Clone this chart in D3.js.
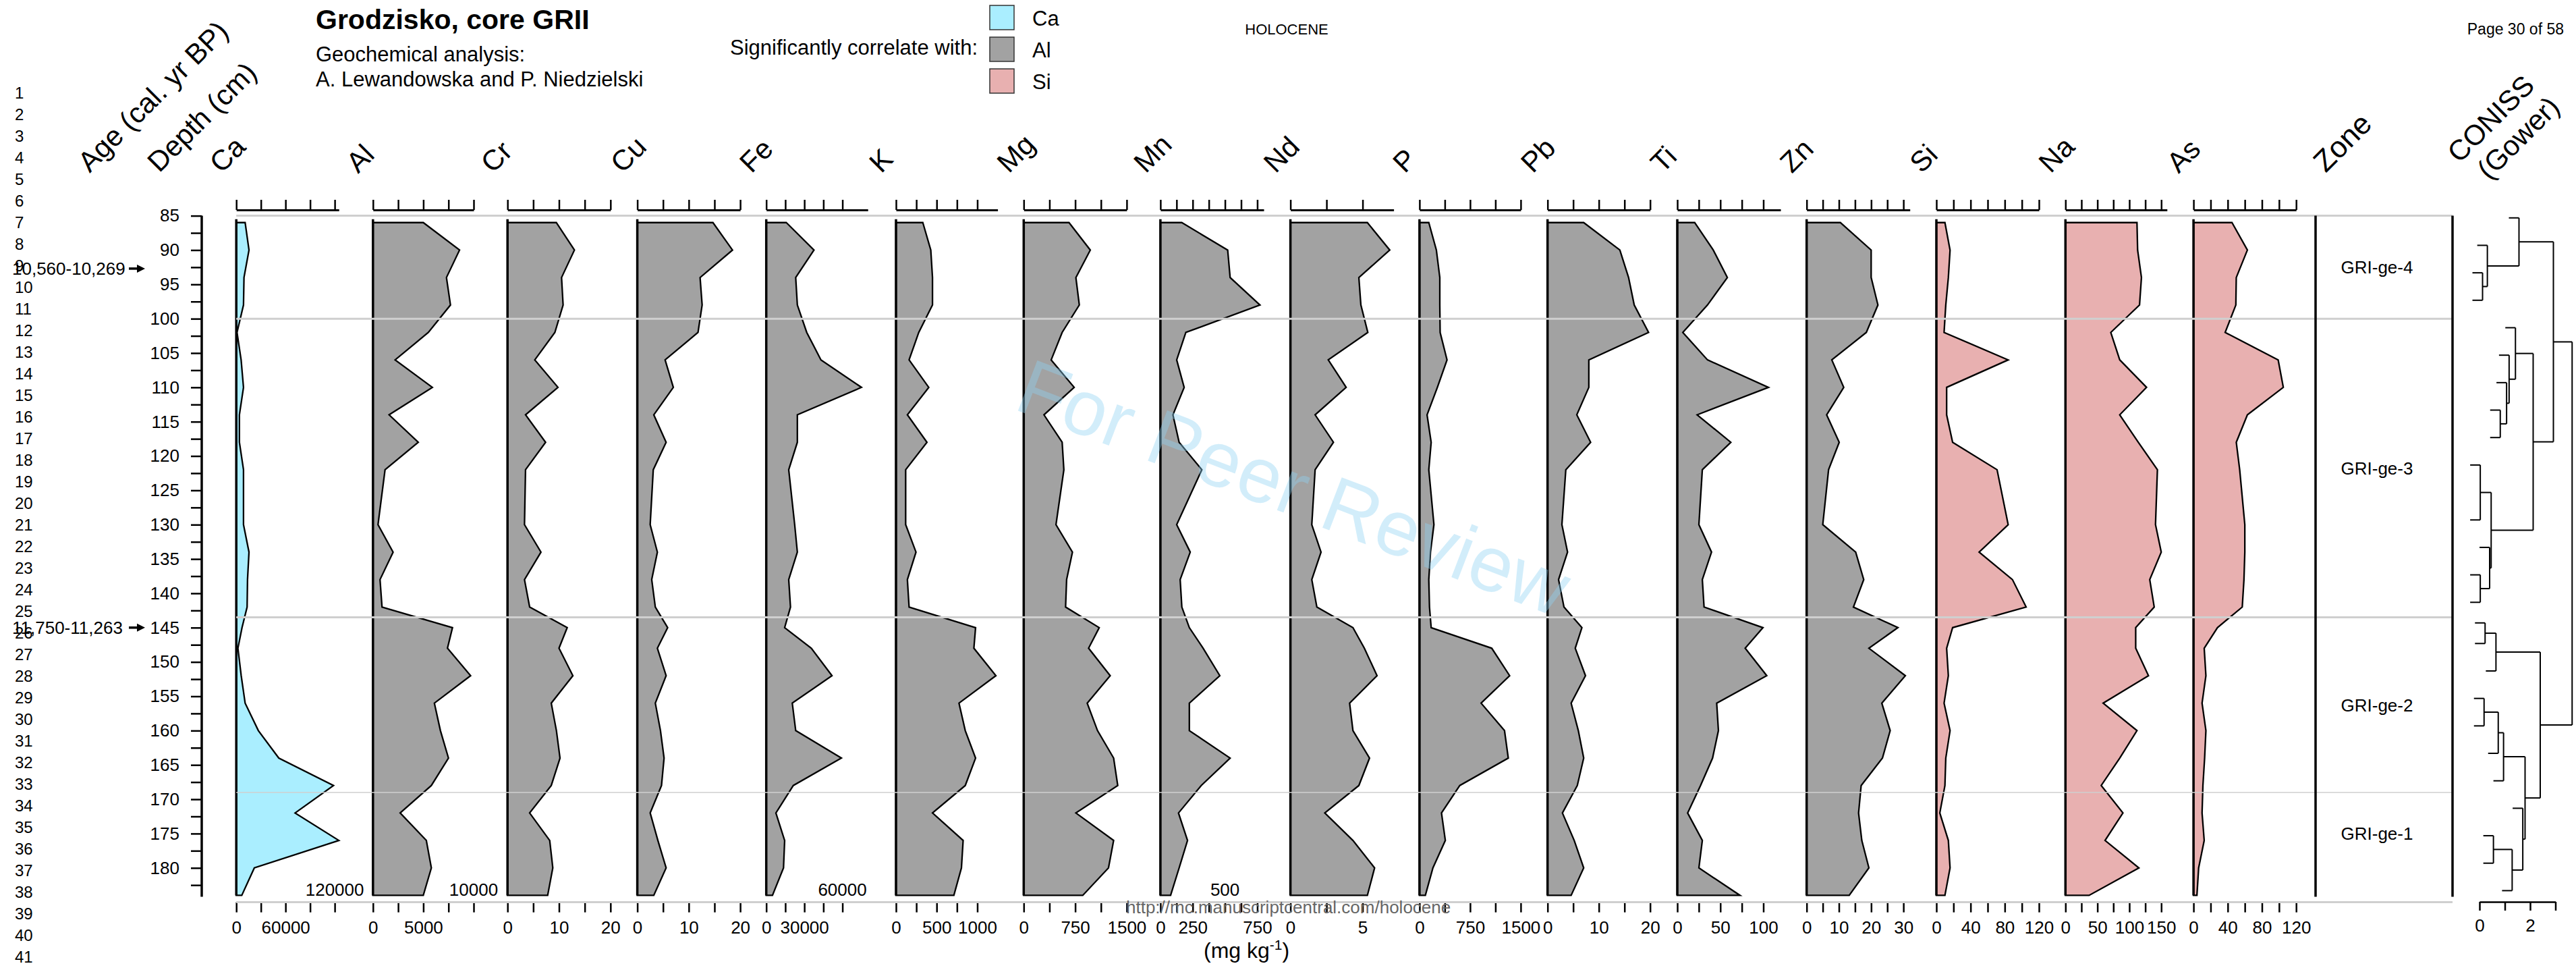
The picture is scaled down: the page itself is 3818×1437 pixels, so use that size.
<!DOCTYPE html>
<html>
<head>
<meta charset="utf-8">
<script src="https://cdn.jsdelivr.net/npm/d3@7.9.0/dist/d3.min.js"></script>
<style>
  body { margin: 0; background: #fff; }
  svg { display: block; font-family: "Liberation Sans", Arial, Helvetica, sans-serif; }
</style>
</head>
<body>
<svg id="chart" width="3818" height="1437"></svg>
<script>
// sample depths (cm)
const depths = [86, 90, 94, 98, 102, 106, 110, 114, 118, 122, 130, 134, 138, 142, 145, 148, 152, 156, 160, 164, 168, 172, 176, 180, 184];

// concentrations (mg/kg), one value per depth
const ca = [10800, 15500, 9400, 8800, 900, 5900, 8800, 3800, 3800, 8800, 8800, 15500, 13700, 13200, 7000, 2000, 6000, 10800, 26900, 51800, 118500, 71700, 125000, 22000, 6700];
const al = [5000, 8600, 7300, 7700, 5500, 2200, 5900, 1600, 4500, 1200, 500, 2000, 700, 900, 7900, 7400, 9700, 6100, 6700, 7500, 5800, 2700, 5300, 5800, 5000];
const cr = [9.5, 13.0, 10.5, 10.8, 9.2, 5.3, 9.8, 3.5, 7.4, 3.5, 3.3, 6.5, 3.3, 4.3, 11.6, 10.0, 12.7, 8.5, 9.5, 10.2, 8.5, 4.3, 8.2, 8.8, 7.8];
const cu = [14.7, 18.5, 12.2, 12.6, 11.8, 5.4, 7.0, 3.2, 5.6, 3.1, 2.5, 3.9, 2.8, 3.5, 5.9, 3.9, 5.6, 3.5, 4.5, 5.2, 4.7, 2.5, 4.0, 5.6, 3.2];
const fe = [15800, 37600, 23200, 24500, 31900, 43100, 75000, 24500, 24500, 17700, 22400, 24500, 17700, 19100, 14500, 35500, 51800, 20500, 23200, 59200, 21300, 7600, 14500, 13600, 4900];
const k  = [330, 428, 449, 449, 280, 161, 403, 140, 381, 119, 119, 246, 140, 161, 979, 958, 1229, 775, 852, 979, 852, 449, 826, 805, 712];
const mg = [660, 970, 760, 810, 560, 400, 735, 295, 560, 585, 470, 710, 625, 610, 1100, 945, 1260, 925, 1075, 1310, 1370, 760, 1310, 1235, 860];
const mn = [166, 521, 540, 771, 197, 126, 184, 97, 145, 321, 126, 231, 153, 166, 224, 331, 460, 224, 224, 540, 316, 140, 210, 145, 79];
const nd = [5.33, 6.88, 4.74, 4.88, 5.36, 2.62, 3.86, 1.71, 2.98, 1.71, 1.48, 2.12, 1.48, 1.83, 4.33, 5.12, 6.0, 4.1, 4.33, 5.48, 4.74, 2.38, 4.33, 5.83, 5.33];
const p  = [138, 250, 301, 301, 306, 408, 265, 112, 173, 138, 214, 163, 138, 148, 173, 1071, 1336, 913, 1260, 1316, 597, 326, 383, 199, 87];
const pb = [7.05, 14.1, 15.8, 16.9, 19.7, 8.05, 8.05, 5.7, 8.4, 3.56, 2.8, 3.9, 2.15, 3.2, 6.7, 5.4, 7.4, 4.6, 6.0, 7.05, 5.8, 2.9, 5.2, 7.05, 4.6];
const ti = [20.3, 41.8, 58.2, 35.1, 6.4, 35.1, 106, 23.1, 62.2, 29.1, 25.1, 39.8, 29.1, 31.1, 99.6, 78.9, 104, 45.8, 47.8, 41, 27, 12, 29.1, 25.1, 72.9];
const zn = [10.5, 20, 20, 22.1, 18.5, 7.8, 11.5, 6.2, 10.1, 6.8, 5.0, 15.2, 17.7, 14.5, 28.3, 19.3, 30.6, 23.3, 25.9, 23.5, 16.9, 16.1, 17.1, 19.3, 13.2];
const si = [10, 16, 14, 11, 9, 84, 12, 12, 19, 71, 84, 50, 89, 105, 19, 12, 14, 9, 16, 11, 10, 4, 14, 16, 10];
const na = [112, 113, 119, 116, 71, 85, 127, 85, 114, 144, 141, 150, 132, 139, 110, 110, 130, 59, 112, 85, 56, 90, 62, 115, 37];
const as = [45, 63, 50, 49.5, 37, 99, 105, 63, 50, 54, 60, 60, 59, 57, 28, 12.5, 14.5, 10, 14.5, 13, 11, 10, 12.5, 6, 4];

const elements = ["Ca", "Al", "Cr", "Cu", "Fe", "K", "Mg", "Mn", "Nd", "P", "Pb", "Ti", "Zn", "Si", "Na", "As"];
const series = [ca, al, cr, cu, fe, k, mg, mn, nd, p, pb, ti, zn, si, na, as];
const correlates = ["Ca", "Al", "Al", "Al", "Al", "Al", "Al", "Al", "Al", "Al", "Al", "Al", "Al", "Si", "Si", "Si"];
const axisMax = [125000, 10000, 20, 20, 80000, 1250, 1500, 800, 7.15, 1500, 20, 120, 32, 120, 159, 120];
const ticks = [
  [0, 30000, 60000, 90000, 120000], [0, 2500, 5000, 7500, 10000], [0, 5, 10, 15, 20], [0, 5, 10, 15, 20],
  [0, 15000, 30000, 45000, 60000], [0, 250, 500, 750, 1000], [0, 375, 750, 1125, 1500], [0, 125, 250, 375, 500, 625, 750],
  [0, 2.5, 5], [0, 375, 750, 1125, 1500], [0, 5, 10, 15, 20], [0, 25, 50, 75, 100],
  [0, 5, 10, 15, 20, 25, 30], [0, 20, 40, 60, 80, 100, 120], [0, 25, 50, 75, 100, 125, 150], [0, 20, 40, 60, 80, 100, 120]
];
const labelsBelow = [[0, 60000], [0, 5000], [0, 10, 20], [0, 10, 20], [0, 30000], [0, 500, 1000], [0, 750, 1500], [0, 250, 750],
  [0, 5], [0, 750, 1500], [0, 10, 20], [0, 50, 100], [0, 10, 20, 30], [0, 40, 80, 120], [0, 50, 100, 150], [0, 40, 80, 120]];
const labelsAbove = [[120000], [10000], [], [], [60000], [], [], [500], [], [], [], [], [], [], [], []];

// zones
const zoneBounds = [85, 100, 143.5, 169, 185];
const zoneNames = ["GRI-ge-4", "GRI-ge-3", "GRI-ge-2", "GRI-ge-1"];
const zoneLabelDepth = [92.5, 121.75, 156.25, 175];
const ageNotes = ["10,560-10,269", "11,750-11,263"];
const ageNoteDepth = [92.7, 145];

// CONISS merges (R hclust style: negative = sample, positive = earlier merge)
const mergeA = [-3, -2, -1, -8, -7, -6, -5, -10, -13, -12, 8, 7, 3, -15, -17, -18, -20, -21, -23, -25, -22, 18, 15, 13];
const mergeB = [-4, 1, 2, -9, 4, 5, 6, -11, -14, 9, 10, 11, 12, -16, 14, -19, 16, 17, -24, 19, 20, 21, 22, 23];
const mergeHeight = [0.12, 0.31, 1.56, 0.82, 1.07, 1.17, 1.42, 0.03, 0.03, 0.40, 0.46, 2.12, 2.92, 0.22, 0.65, 0.18, 0.74, 0.95, 0.55, 1.29, 1.71, 1.80, 2.40, 3.66];

// ---------- layout ----------
const panelLeft  = [350.2, 552.8, 752.2, 944.6, 1135.7, 1328, 1517.3, 1719.9, 1912.6, 2103.9, 2293.7, 2486, 2677.7, 2870, 3061.3, 3251.1];
const panelRight = [502.2, 702, 904.8, 1097.1, 1286.2, 1478.6, 1669.9, 1873, 2065.6, 2253.9, 2445.7, 2639, 2830.7, 3022, 3211.8, 3403.2];
const colors = { Ca: "#aaeeff", Al: "#a2a2a2", Si: "#e8b0b0" };
const topAxisY = 311;
const zoneLeft = 3432, zoneRight = 3635;

const svg = d3.select("#chart");
const y = d3.scaleLinear().domain([85, 185]).range([319.6, 1336.6]);
const bottomY = y(185);

// page line numbers
svg.append("g").selectAll("text")
  .data(d3.range(1, 42))
  .join("text")
  .attr("x", 22).attr("y", d => 137 + (d - 1) * 32)
  .attr("dy", "0.36em").attr("font-size", 24)
  .text(d => d);

// header text
svg.append("text").attr("x", 468).attr("y", 43).attr("font-size", 41).attr("font-weight", "bold").text("Grodzisko, core GRII");
svg.append("text").attr("x", 468).attr("y", 91).attr("font-size", 31).text("Geochemical analysis:");
svg.append("text").attr("x", 468).attr("y", 128).attr("font-size", 31).text("A. Lewandowska and P. Niedzielski");
svg.append("text").attr("x", 1449).attr("y", 81).attr("font-size", 31).attr("text-anchor", "end").text("Significantly correlate with:");
svg.append("text").attr("x", 1907).attr("y", 51).attr("font-size", 22).attr("text-anchor", "middle").text("HOLOCENE");
svg.append("text").attr("x", 3800).attr("y", 51).attr("font-size", 23).attr("text-anchor", "end").text("Page 30 of 58");

const legendKeys = ["Ca", "Al", "Si"];
legendKeys.forEach((key, i) => {
  svg.append("rect").attr("x", 1467).attr("y", 8 + i * 47).attr("width", 36).attr("height", 36)
    .attr("fill", colors[key]).attr("stroke", "#333").attr("stroke-width", 1.5);
  svg.append("text").attr("x", 1530).attr("y", 38 + i * 47).attr("font-size", 31).text(key);
});

// rotated column headers
function rotLabel(x, yy, txt, size) {
  svg.append("text").attr("transform", `translate(${x},${yy}) rotate(-45)`)
    .attr("font-size", size).text(txt);
}
rotLabel(133, 257, "Age (cal. yr BP)", 42);
rotLabel(236, 257, "Depth (cm)", 42);
elements.forEach((el, i) => rotLabel(panelLeft[i] - 22, 258, el, 42));
rotLabel(3447, 257, "Zone", 44);
rotLabel(3645, 243, "CONISS", 42);
rotLabel(3689, 268, "(Gower)", 42);

// depth axis
const depthAxis = d3.axisLeft(y)
  .tickValues(d3.range(85, 183, 2.5))
  .tickSize(16).tickPadding(17)
  .tickFormat(d => d % 5 === 0 ? d : "");
const dg = svg.append("g").attr("transform", "translate(299,0)").call(depthAxis);
dg.select(".domain").remove();
dg.selectAll("line").attr("stroke", "#000").attr("stroke-width", 2.5);
dg.selectAll("text").attr("font-size", 26).attr("font-family", null).attr("fill", "#000");
svg.append("line").attr("x1", 299).attr("x2", 299).attr("y1", y(85)).attr("y2", y(184.2))
  .attr("stroke", "#000").attr("stroke-width", 3.5);

// age notes with arrows
ageNotes.forEach((txt, i) => {
  const yy = y(ageNoteDepth[i]);
  svg.append("text").attr("x", 18).attr("y", yy).attr("dy", "0.36em").attr("font-size", 26).text(txt);
  svg.append("line").attr("x1", 191).attr("x2", 205).attr("y1", yy).attr("y2", yy)
    .attr("stroke", "#000").attr("stroke-width", 3.5);
  svg.append("path").attr("d", `M203,${yy - 6}L215,${yy}L203,${yy + 6}Z`).attr("fill", "#000");
});

// panels
const panels = svg.append("g");
elements.forEach((el, i) => {
  const x = d3.scaleLinear().domain([0, axisMax[i]]).range([panelLeft[i], panelRight[i]]);
  const rows = depths.map((d, j) => ({ d: d, v: series[i][j] }));
  const area = d3.area().x0(x(0)).x1(d => x(d.v)).y(d => y(d.d));
  const g = panels.append("g");
  g.append("path").attr("d", area(rows))
    .attr("fill", colors[correlates[i]]).attr("stroke", "#000").attr("stroke-width", 2.3)
    .attr("stroke-linejoin", "miter");
  g.append("line").attr("x1", x(0)).attr("x2", x(0)).attr("y1", y(85.5)).attr("y2", y(184))
    .attr("stroke", "#000").attr("stroke-width", 3.5);

  // top axis
  const top = g.append("g").attr("transform", `translate(0,${topAxisY})`)
    .call(d3.axisTop(x).tickValues(ticks[i]).tickSize(15).tickSizeOuter(0).tickFormat(""));
  top.select(".domain").attr("stroke", "#000").attr("stroke-width", 3);
  top.selectAll("line").attr("stroke", "#000").attr("stroke-width", 2.5);

  // bottom axis
  const bot = g.append("g").attr("transform", `translate(0,${bottomY})`)
    .call(d3.axisBottom(x).tickValues(ticks[i]).tickSize(15).tickPadding(13)
      .tickFormat(d => labelsBelow[i].includes(d) ? String(d) : ""));
  bot.select(".domain").remove();
  bot.selectAll("line").attr("stroke", "#000").attr("stroke-width", 2.5);
  bot.selectAll("text").attr("font-size", 26).attr("font-family", null).attr("fill", "#000");

  labelsAbove[i].forEach(v => {
    g.append("text").attr("x", x(v)).attr("y", 1327).attr("text-anchor", "middle")
      .attr("font-size", 26).text(String(v));
  });
});

// zone boundary lines (on top of the profiles)
zoneBounds.forEach(b => {
  svg.append("line").attr("x1", panelLeft[0]).attr("x2", zoneRight)
    .attr("y1", y(b)).attr("y2", y(b))
    .attr("stroke", "#cfcfcf").attr("stroke-width", b === 169 ? 1.5 : 3);
});

// zone column
[zoneLeft, zoneRight].forEach(xx => {
  svg.append("line").attr("x1", xx).attr("x2", xx).attr("y1", y(85)).attr("y2", y(184.2))
    .attr("stroke", "#000").attr("stroke-width", 3.5);
});
zoneNames.forEach((name, i) => {
  svg.append("text").attr("x", 3523).attr("y", y(zoneLabelDepth[i])).attr("dy", "0.36em")
    .attr("text-anchor", "middle").attr("font-size", 26).text(name);
});

// CONISS dendrogram
const dx = d3.scaleLinear().domain([0, 3]).range([3675, 3787.5]);
const leafY = d => y(d) - 7;
const hang = 0.4;
const clusterPos = [];
const dendro = svg.append("g").attr("stroke", "#000").attr("stroke-width", 2).attr("fill", "none");
mergeHeight.forEach((h, m) => {
  const kids = [mergeA[m], mergeB[m]].map(c => c < 0
    ? { pos: leafY(depths[-c - 1]), h: h - hang }
    : { pos: clusterPos[c - 1], h: mergeHeight[c - 1] });
  kids.forEach(c => {
    dendro.append("line").attr("x1", dx(c.h)).attr("x2", dx(h)).attr("y1", c.pos).attr("y2", c.pos);
  });
  dendro.append("line").attr("x1", dx(h)).attr("x2", dx(h)).attr("y1", kids[0].pos).attr("y2", kids[1].pos);
  clusterPos.push((kids[0].pos + kids[1].pos) / 2);
});
const dAxis = svg.append("g").attr("transform", "translate(0,1336)")
  .call(d3.axisBottom(dx).tickValues([0, 1, 2, 3]).tickSize(13).tickSizeOuter(0).tickPadding(13)
    .tickFormat(d => d % 2 === 0 && d < 3 ? String(d) : ""));
dAxis.select(".domain").attr("stroke", "#000").attr("stroke-width", 2.5);
dAxis.selectAll("line").attr("stroke", "#000").attr("stroke-width", 2.5);
dAxis.selectAll("text").attr("font-size", 26).attr("font-family", null).attr("fill", "#000");

// unit label
const unit = svg.append("text").attr("x", 1784).attr("y", 1419).attr("font-size", 32);
unit.append("tspan").text("(mg kg");
unit.append("tspan").attr("font-size", 21).attr("dy", -12).text("-1");
unit.append("tspan").attr("dy", 12).text(")");

// footer and watermark
svg.append("text").attr("x", 1669).attr("y", 1353).attr("font-size", 26).attr("fill", "#666")
  .text("http://mc.manuscriptcentral.com/holocene");
svg.append("text").attr("transform", "translate(1500,605) rotate(21)")
  .attr("font-size", 116).attr("fill", "#8fd3f2").attr("fill-opacity", 0.4)
  .text("For Peer Review");
</script>
</body>
</html>
